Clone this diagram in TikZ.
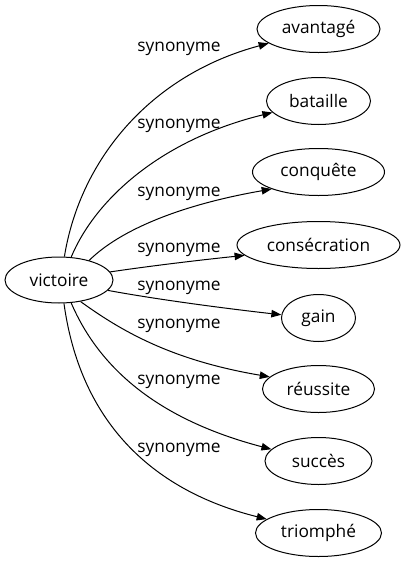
\documentclass[tikz,border=0pt]{standalone}
\usepackage{fontspec}
\setmainfont{Open Sans}
\usetikzlibrary{arrows.meta,shapes.geometric}
\tikzset{
  wordnode/.style = {ellipse, draw=black, line width=1pt, inner sep=0pt,
    minimum height=47pt, font=\fontsize{17.3}{20}\selectfont},% mot
  relnode/.style = {inner sep=0pt, font=\fontsize{17.3}{20}\selectfont},% etiquette
  reledge/.style = {-{Triangle[length=10pt,width=7.5pt]}, line width=1pt}% fleche
}

\begin{document}
\begin{tikzpicture}[x=1pt,y=-1pt]
\useasboundingbox (0,0) rectangle (405,563);
\node [wordnode, minimum width=108pt, minimum height=46pt] (vic) at (59,280) {victoire};
\node [wordnode, minimum width=123pt] (ava) at (318.5,29) {avantagé};
\node [wordnode, minimum width=104pt] (bat) at (318.5,101) {bataille};
\node [wordnode, minimum width=132pt] (conq) at (318.5,172) {conquête};
\node [wordnode, minimum width=163pt] (cons) at (318.5,245) {consécration};
\node [wordnode, minimum width=74pt] (gain) at (318.5,318) {gain};
\node [wordnode, minimum width=112pt] (reu) at (318.5,389) {réussite};
\node [wordnode, minimum width=107pt] (suc) at (318.5,461) {succès};
\node [wordnode, minimum width=126pt] (tri) at (318.5,533) {triomphé};

\node [relnode] (l1) at (179,49) {synonyme};
\node [relnode] (l2) at (179,126) {synonyme};
\node [relnode] (l3) at (179,194) {synonyme};
\node [relnode] (l4) at (179,250) {synonyme};
\node [relnode] (l5) at (179,288) {synonyme};
\node [relnode] (l6) at (179,326) {synonyme};
\node [relnode] (l7) at (179,382) {synonyme};
\node [relnode] (l8) at (179,450) {synonyme};

\draw [reledge] (vic.77) .. controls (80,160) and (150,75) .. (ava.196);
\draw [reledge] (vic.62) .. controls (95,200) and (160,140) .. (bat.194);
\draw [reledge] (vic.33) .. controls (120,230) and (180,205) .. (conq.200);
\draw [reledge] (vic.9) .. controls (150,266) and (200,260) .. (cons.188);
\draw [reledge] (vic.-12) .. controls (160,300) and (230,309) .. (gain.175);
\draw [reledge] (vic.-45) .. controls (120,330) and (170,360) .. (reu.166);
\draw [reledge] (vic.-62) .. controls (100,370) and (160,420) .. (suc.166);
\draw [reledge] (vic.-78) .. controls (80,420) and (150,490) .. (tri.165);
\end{tikzpicture}
\end{document}
